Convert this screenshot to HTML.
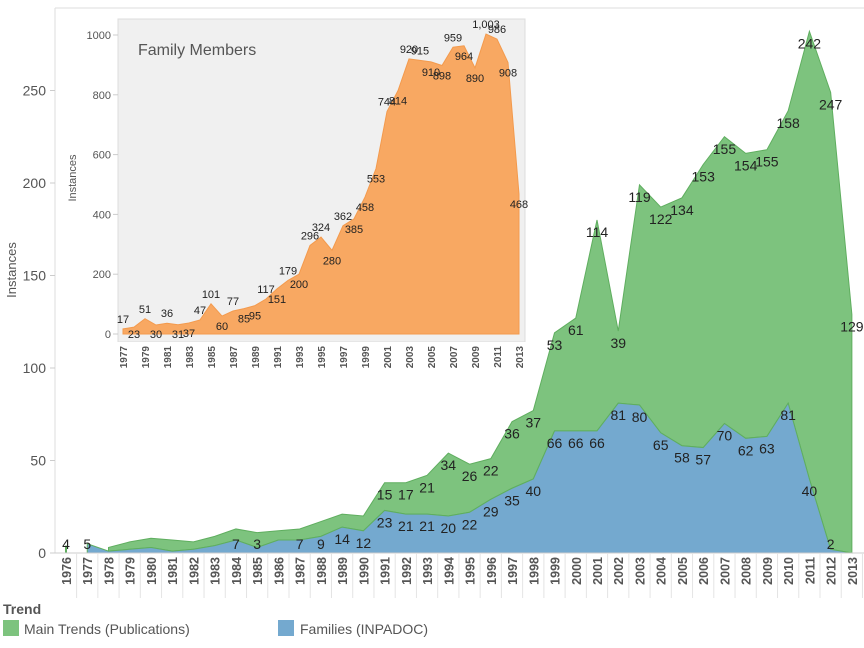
<!DOCTYPE html>
<html><head><meta charset="utf-8"><style>
body{margin:0;background:#fff;font-family:"Liberation Sans",sans-serif}
svg text{font-family:"Liberation Sans",sans-serif}
</style></head><body>
<svg id="chart" width="864" height="643" viewBox="0 0 864 643" xmlns="http://www.w3.org/2000/svg">
<line x1="55" y1="8" x2="864" y2="8" stroke="#ddd"/>
<line x1="55" y1="8" x2="55" y2="553" stroke="#ddd"/>
<text x="16" y="270" font-size="13" fill="#555" text-anchor="middle" transform="rotate(-90 16 270)">Instances</text>
<g id="main"></g>
<g id="inset"></g>
<text x="3" y="614" font-size="14" font-weight="bold" fill="#555">Trend</text>
<rect x="3" y="620" width="16" height="16" fill="#7dc37e"/>
<text x="24" y="634" font-size="14" fill="#555">Main Trends (Publications)</text>
<rect x="278" y="620" width="16" height="16" fill="#74a9cf"/>
<text x="300" y="634" font-size="14" fill="#555">Families (INPADOC)</text>
</svg>
<script>
const years=[1976,1977,1978,1979,1980,1981,1982,1983,1984,1985,1986,1987,1988,1989,1990,1991,1992,1993,1994,1995,1996,1997,1998,1999,2000,2001,2002,2003,2004,2005,2006,2007,2008,2009,2010,2011,2012,2013];
const families=[0,5,1,2,3,1,2,4,7,3,7,7,9,14,12,23,21,21,20,22,29,35,40,66,66,66,81,80,65,58,57,70,62,63,81,40,2,0];
const familyLabels=[null,5,null,null,null,null,null,null,7,3,null,7,9,14,12,23,21,21,20,22,29,35,40,66,66,66,81,80,65,58,57,70,62,63,81,40,2,null];
const mainTrends=[4,0,2,4,5,6,4,5,6,8,5,6,8,7,8,15,17,21,34,26,22,36,37,53,61,114,39,119,122,134,153,155,154,155,158,242,247,129];
const mainLabels=[4,null,null,null,null,null,null,null,null,null,null,null,null,null,null,15,17,21,34,26,22,36,37,53,61,114,39,119,122,134,153,155,154,155,158,242,247,129];
const yTicks=[0,50,100,150,200,250];
const insetYears=[1977,1978,1979,1980,1981,1982,1983,1984,1985,1986,1987,1988,1989,1990,1991,1992,1993,1994,1995,1996,1997,1998,1999,2000,2001,2002,2003,2004,2005,2006,2007,2008,2009,2010,2011,2012,2013];
const familyMembers=[17,23,51,30,36,31,37,47,101,60,77,85,95,117,151,179,200,296,324,280,362,385,458,553,744,814,920,915,910,898,959,964,890,1003,986,908,468];
const insetLabelAbove=[1,0,1,0,1,0,0,1,1,0,1,0,0,1,0,1,0,1,1,0,1,0,0,0,1,0,1,1,0,0,1,0,0,1,1,0,0];
const insetTicks=[0,200,400,600,800,1000];

const NS="http://www.w3.org/2000/svg";
function mk(p,t,a){const e=document.createElementNS(NS,t);for(const k in a)e.setAttribute(k,a[k]);p.appendChild(e);return e;}
const mainG=document.getElementById('main');
const x=i=>66+i*21.24;
const y=v=>553-v*1.85;
yTicks.forEach(t=>{
  const l=mk(mainG,'line',{x1:50,x2:55,y1:y(t),y2:y(t),stroke:'#ccc'});
  
  
  const tx=mk(mainG,'text',{x:46,y:y(t)+5,'font-size':14,fill:'#555','text-anchor':'end'});
  tx.textContent=t;
  
  
});
let upperPts=[],lowerPts=[];
for(let i=2;i<years.length;i++){upperPts.push(x(i)+','+y(families[i]+mainTrends[i]));}
for(let i=years.length-1;i>=2;i--){lowerPts.push(x(i)+','+y(families[i]));}
const g=mk(mainG,'polygon',{points:upperPts.concat(lowerPts).join(' '),fill:'#7dc37e',stroke:'#5fae5f','stroke-width':1});


let bp=[];
for(let i=1;i<years.length;i++)bp.push(x(i)+','+y(families[i]));
bp.push(x(years.length-1)+','+y(0),x(1)+','+y(0));
const b=mk(mainG,'polygon',{points:bp.join(' '),fill:'#74a9cf',stroke:'#5fae5f','stroke-width':1});


const l76=mk(mainG,'line',{x1:x(0),x2:x(0),y1:y(0),y2:y(families[0]+mainTrends[0]),stroke:'#5fae5f','stroke-width':2});


mk(mainG,'line',{x1:50,x2:864,y1:553,y2:553,stroke:'#ccc'});
years.forEach((yr,i)=>{
  if(familyLabels[i]!=null){
    const t=mk(mainG,'text',{x:x(i),y:Math.min(y(families[i])+17,549),'font-size':14,fill:'#222','text-anchor':'middle'});
    t.textContent=familyLabels[i];
    
    
  }
  if(mainLabels[i]!=null){
    const t=mk(mainG,'text',{x:x(i),y:Math.min(y(families[i]+mainTrends[i])+17,549),'font-size':14,fill:'#222','text-anchor':'middle'});
    t.textContent=mainLabels[i];
    
    
  }
  const tk=mk(mainG,'line',{x1:x(i)+10.6,x2:x(i)+10.6,y1:553,y2:598,stroke:'#e4e4e4'});
  
  
  const xt=mk(mainG,'text',{x:x(i)+5,y:557,'font-size':12.5,'font-weight':'bold',fill:'#555','text-anchor':'end',transform:`rotate(-90 ${x(i)+5} 557)`});
  xt.textContent=yr;
  
  
});
const ins=document.getElementById('inset');
const ix=i=>123+i*11;
const iy=v=>334-v*0.299;
mk(ins,'rect',{x:60,y:19,width:58,height:340,fill:'#fff'});
const bg=mk(ins,'rect',{x:118,y:19,width:407,height:323,fill:'#f0f0f0',stroke:'#ddd'});


mk(ins,'rect',{x:60,y:342,width:466,height:17,fill:'#fff'});
const tt=mk(ins,'text',{x:138,y:55,'font-size':16,fill:'#555'});
tt.textContent='Family Members';


const it=mk(ins,'text',{x:76,y:178,'font-size':11,fill:'#555','text-anchor':'middle',transform:'rotate(-90 76 178)'});
it.textContent='Instances';


insetTicks.forEach(t=>{
  const tx=mk(ins,'text',{x:111,y:iy(t)+4,'font-size':11,fill:'#555','text-anchor':'end'});
  tx.textContent=t;
  
  
  mk(ins,'line',{x1:113,x2:118,y1:iy(t),y2:iy(t),stroke:'#ccc'});
});
let ip=familyMembers.map((v,i)=>ix(i)+','+iy(v));
ip.push(ix(familyMembers.length-1)+','+iy(0),ix(0)+','+iy(0));
const ia=mk(ins,'polygon',{points:ip.join(' '),fill:'#f8a862',stroke:'#f39a4d'});


familyMembers.forEach((v,i)=>{
  const t=mk(ins,'text',{x:ix(i),y:Math.min(insetLabelAbove[i]?iy(v)-6:iy(v)+14,338),'font-size':11,fill:'#222','text-anchor':'middle'});
  t.textContent=v.toLocaleString('en-US');
  
  
  if(i%2===0){
    const xt=mk(ins,'text',{x:ix(i)+4,y:346,'font-size':10,'font-weight':'bold',fill:'#555','text-anchor':'end',transform:`rotate(-90 ${ix(i)+4} 346)`});
    xt.textContent=insetYears[i];
    
    
  }
});
</script>
</body></html>
